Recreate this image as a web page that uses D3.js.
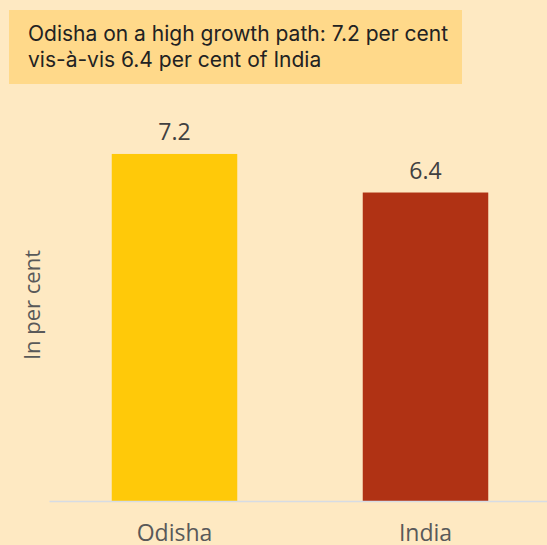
<!DOCTYPE html>
<html>
<head>
<meta charset="utf-8">
<script src="https://cdn.jsdelivr.net/npm/d3@7"></script>
<style>
  html, body { margin: 0; padding: 0; background: #FEE9C2; }
  svg { display: block; }
</style>
</head>
<body>
<div id="chart"></div>
<script>
var categories = ["Odisha", "India"];
var values = [7.2, 6.4];
var barColors = ["#FFC909", "#B03214"];
var titleLines = ["Odisha on a high growth path: 7.2 per cent", "vis-\u00e0-vis 6.4 per cent of India"];
var yTitle = "In per cent";

var width = 547;
var height = 545;

var svg = d3.select("#chart").append("svg")
  .attr("width", width)
  .attr("height", height);

svg.append("rect")
  .attr("width", width)
  .attr("height", height)
  .attr("fill", "#FEE9C2");

// title box
svg.append("rect")
  .attr("x", 9)
  .attr("y", 10)
  .attr("width", 453)
  .attr("height", 74)
  .attr("fill", "#FFD98A");

svg.append("g")
  .selectAll("text")
  .data(titleLines).enter()
  .append("text")
  .attr("x", 28)
  .attr("y", (d, i) => 41 + i * 26)
  .attr("fill", "#222222")
  .style("font-family", "Inter, sans-serif")
  .style("font-size", "21px")
  .text(d => d);

var xScale = d3.scaleBand()
  .domain(categories)
  .range([49, 551])
  .paddingInner(0.5)
  .paddingOuter(0.25);

var yScale = d3.scaleLinear()
  .domain([0, 8])
  .range([501, 115.4]);

var data = categories.map((c, i) => ({name: c, value: values[i], color: barColors[i]}));

svg.append("g")
  .selectAll("rect")
  .data(data).enter()
  .append("rect")
  .attr("x", d => xScale(d.name))
  .attr("y", d => yScale(d.value))
  .attr("width", xScale.bandwidth())
  .attr("height", d => yScale(0) - yScale(d.value))
  .attr("fill", d => d.color);

// value labels
svg.append("g")
  .selectAll("text")
  .data(data).enter()
  .append("text")
  .attr("x", d => xScale(d.name) + xScale.bandwidth() / 2)
  .attr("y", d => yScale(d.value) - 14)
  .attr("text-anchor", "middle")
  .attr("fill", "#404040")
  .style("font-family", "'Open Sans', sans-serif")
  .style("font-size", "23px")
  .text(d => d.value.toFixed(1));

// x axis
var xAxis = d3.axisBottom(xScale).tickSize(0).tickPadding(24);
var gx = svg.append("g")
  .attr("transform", `translate(0, ${yScale(0)})`)
  .call(xAxis);
gx.select(".domain").attr("stroke", "#D6DCE4").attr("stroke-width", 1.5);
gx.selectAll("text")
  .attr("fill", "#595959")
  .style("font-family", "'Open Sans', sans-serif")
  .style("font-size", "23px");

svg.append("text")
  .attr("transform", "translate(40, 305) rotate(-90)")
  .attr("text-anchor", "middle")
  .attr("fill", "#595959")
  .style("font-family", "'Open Sans', sans-serif")
  .style("font-size", "22px")
  .text(yTitle);
</script>
</body>
</html>
